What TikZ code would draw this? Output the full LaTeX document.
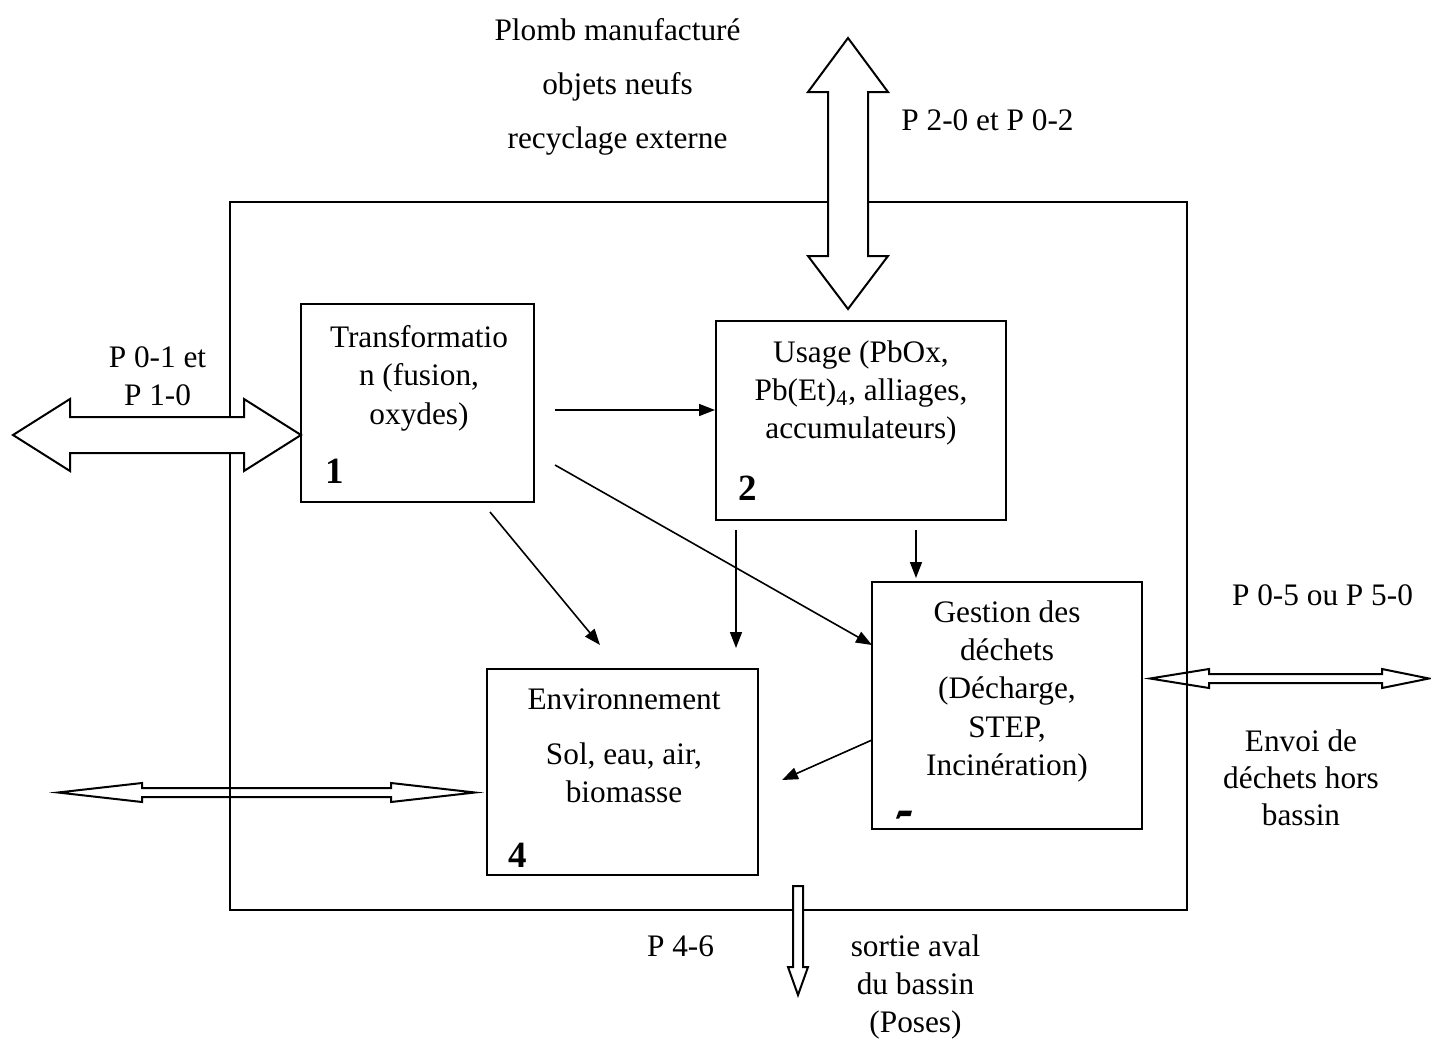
\documentclass[tikz,border=0pt]{standalone}
\usepackage{fontspec}
\setmainfont{Liberation Serif}
\usetikzlibrary{arrows.meta}
\tikzset{
  bloc/.style={draw, line width=1pt, inner sep=0pt},
  texte/.style={align=center, inner sep=0pt, anchor=north, font=\fontsize{15.65}{19.2}\selectfont},
  numero/.style={inner sep=0pt, anchor=base west, font=\fontsize{18.5}{20}\selectfont\bfseries},
  flux/.style={-{Triangle[length=8pt,width=6pt]}, line width=0.8pt},
  grosse/.style={draw, line width=1pt, fill=white, line join=miter},
  fine/.style={draw, line width=1pt, line join=miter},
}
\begin{document}
\begin{tikzpicture}[x=0.5pt,y=-0.5pt]
  \useasboundingbox (0,0) rectangle (1431,1039);
  % cadre du bassin
  \node[bloc, minimum width=478.5pt, minimum height=354pt] (bassin) at (708.5,556) {};
  % boites
  \node[bloc, minimum width=116.5pt, minimum height=99pt] (transfo) at (417.5,403) {};
  \node[bloc, minimum width=145pt, minimum height=99.5pt] (usage) at (861,420.5) {};
  \node[bloc, minimum width=135pt, minimum height=123.5pt] (gestion) at (1007,705.5) {};
  \node[bloc, minimum width=135.5pt, minimum height=103pt] (envir) at (622.5,772) {};
  % grosses fleches
  \draw[grosse] (13,435) -- (70,399) -- (70,417) -- (244,417) -- (244,399) -- (301,435)
    -- (244,471) -- (244,453) -- (70,453) -- (70,471) -- cycle;
  \draw[grosse] (848,38) -- (888,92) -- (868,92) -- (868,256) -- (888,256) -- (848,309)
    -- (808,256) -- (828,256) -- (828,92) -- (808,92) -- cycle;
  \draw[grosse] (793,886) -- (803,886) -- (803,967) -- (808,967) -- (798,995)
    -- (788,967) -- (793,967) -- cycle;
  % fleches fines
  \draw[fine] (1150,678.5) -- (1209,669) -- (1209,674) -- (1382,674) -- (1382,669) -- (1429,678.5)
    -- (1382,688) -- (1382,683) -- (1209,683) -- (1209,688) -- cycle;
  \draw[fine] (58,792.5) -- (142,783) -- (142,788) -- (391,788) -- (391,783) -- (475,792.5)
    -- (391,802) -- (391,797) -- (142,797) -- (142,802) -- cycle;
  % flux entre compartiments
  \coordinate (t-u) at (555,410);
  \coordinate (t-e) at (490,512);
  \coordinate (e-in) at (600,645);
  \coordinate (t-g) at (555,465);
  \coordinate (g-in) at (872,645);
  \coordinate (u-e) at (736,530);
  \coordinate (ue-in) at (736,648);
  \coordinate (u-g) at (916,530);
  \coordinate (ug-in) at (916,578);
  \coordinate (g-e) at (872,740);
  \coordinate (ge-in) at (782,780);
  \draw[flux] (t-u) -- (t-u -| usage.west);
  \draw[flux] (t-e) -- (e-in);
  \draw[flux] (t-g) -- (g-in);
  \draw[flux] (u-e) -- (ue-in);
  \draw[flux] (u-g) -- (ug-in);
  \draw[flux] (g-e) -- (ge-in);
  % textes
  \node[texte, font=\fontsize{15.65}{27}\selectfont] (plomb) at (617.5,18) {Plomb manufacturé\\objets neufs\\recyclage externe};
  \node[texte] (p20) at (987.5,109) {P 2-0 et P 0-2};
  \node[texte] (p01) at (157.5,346) {P 0-1 et\\P 1-0};
  \node[texte] (p05) at (1322.5,584) {P 0-5 ou P 5-0};
  \node[texte, font=\fontsize{15.65}{18.6}\selectfont] (envoi) at (1301,729) {Envoi de\\déchets hors\\bassin};
  \node[texte] (p46) at (680.5,935) {P 4-6};
  \node[texte] (sortie) at (915.5,934) {sortie aval\\du bassin\\(Poses)};
  \node[texte] at (419,325) {Transformatio\\n (fusion,\\oxydes)};
  \node[texte] at (861,340) {Usage (PbOx,\\Pb(Et)\textsubscript{4}, alliages,\\accumulateurs)};
  \node[texte] at (1007,600) {Gestion des\\déchets\\(Décharge,\\STEP,\\Incinération)};
  \node[texte] at (624,688) {Environnement\\[8.3pt]Sol, eau, air,\\biomasse};
  % numeros
  \node[numero] at (325,483) {1};
  \node[numero] at (738,500) {2};
  \node[numero] at (508,867) {4};
  \fill (899,810.5) -- (912,810.5) -- (910.5,816) -- (900.5,816) -- (899,818.5) -- (896,818.5) -- cycle;
\end{tikzpicture}
\end{document}
